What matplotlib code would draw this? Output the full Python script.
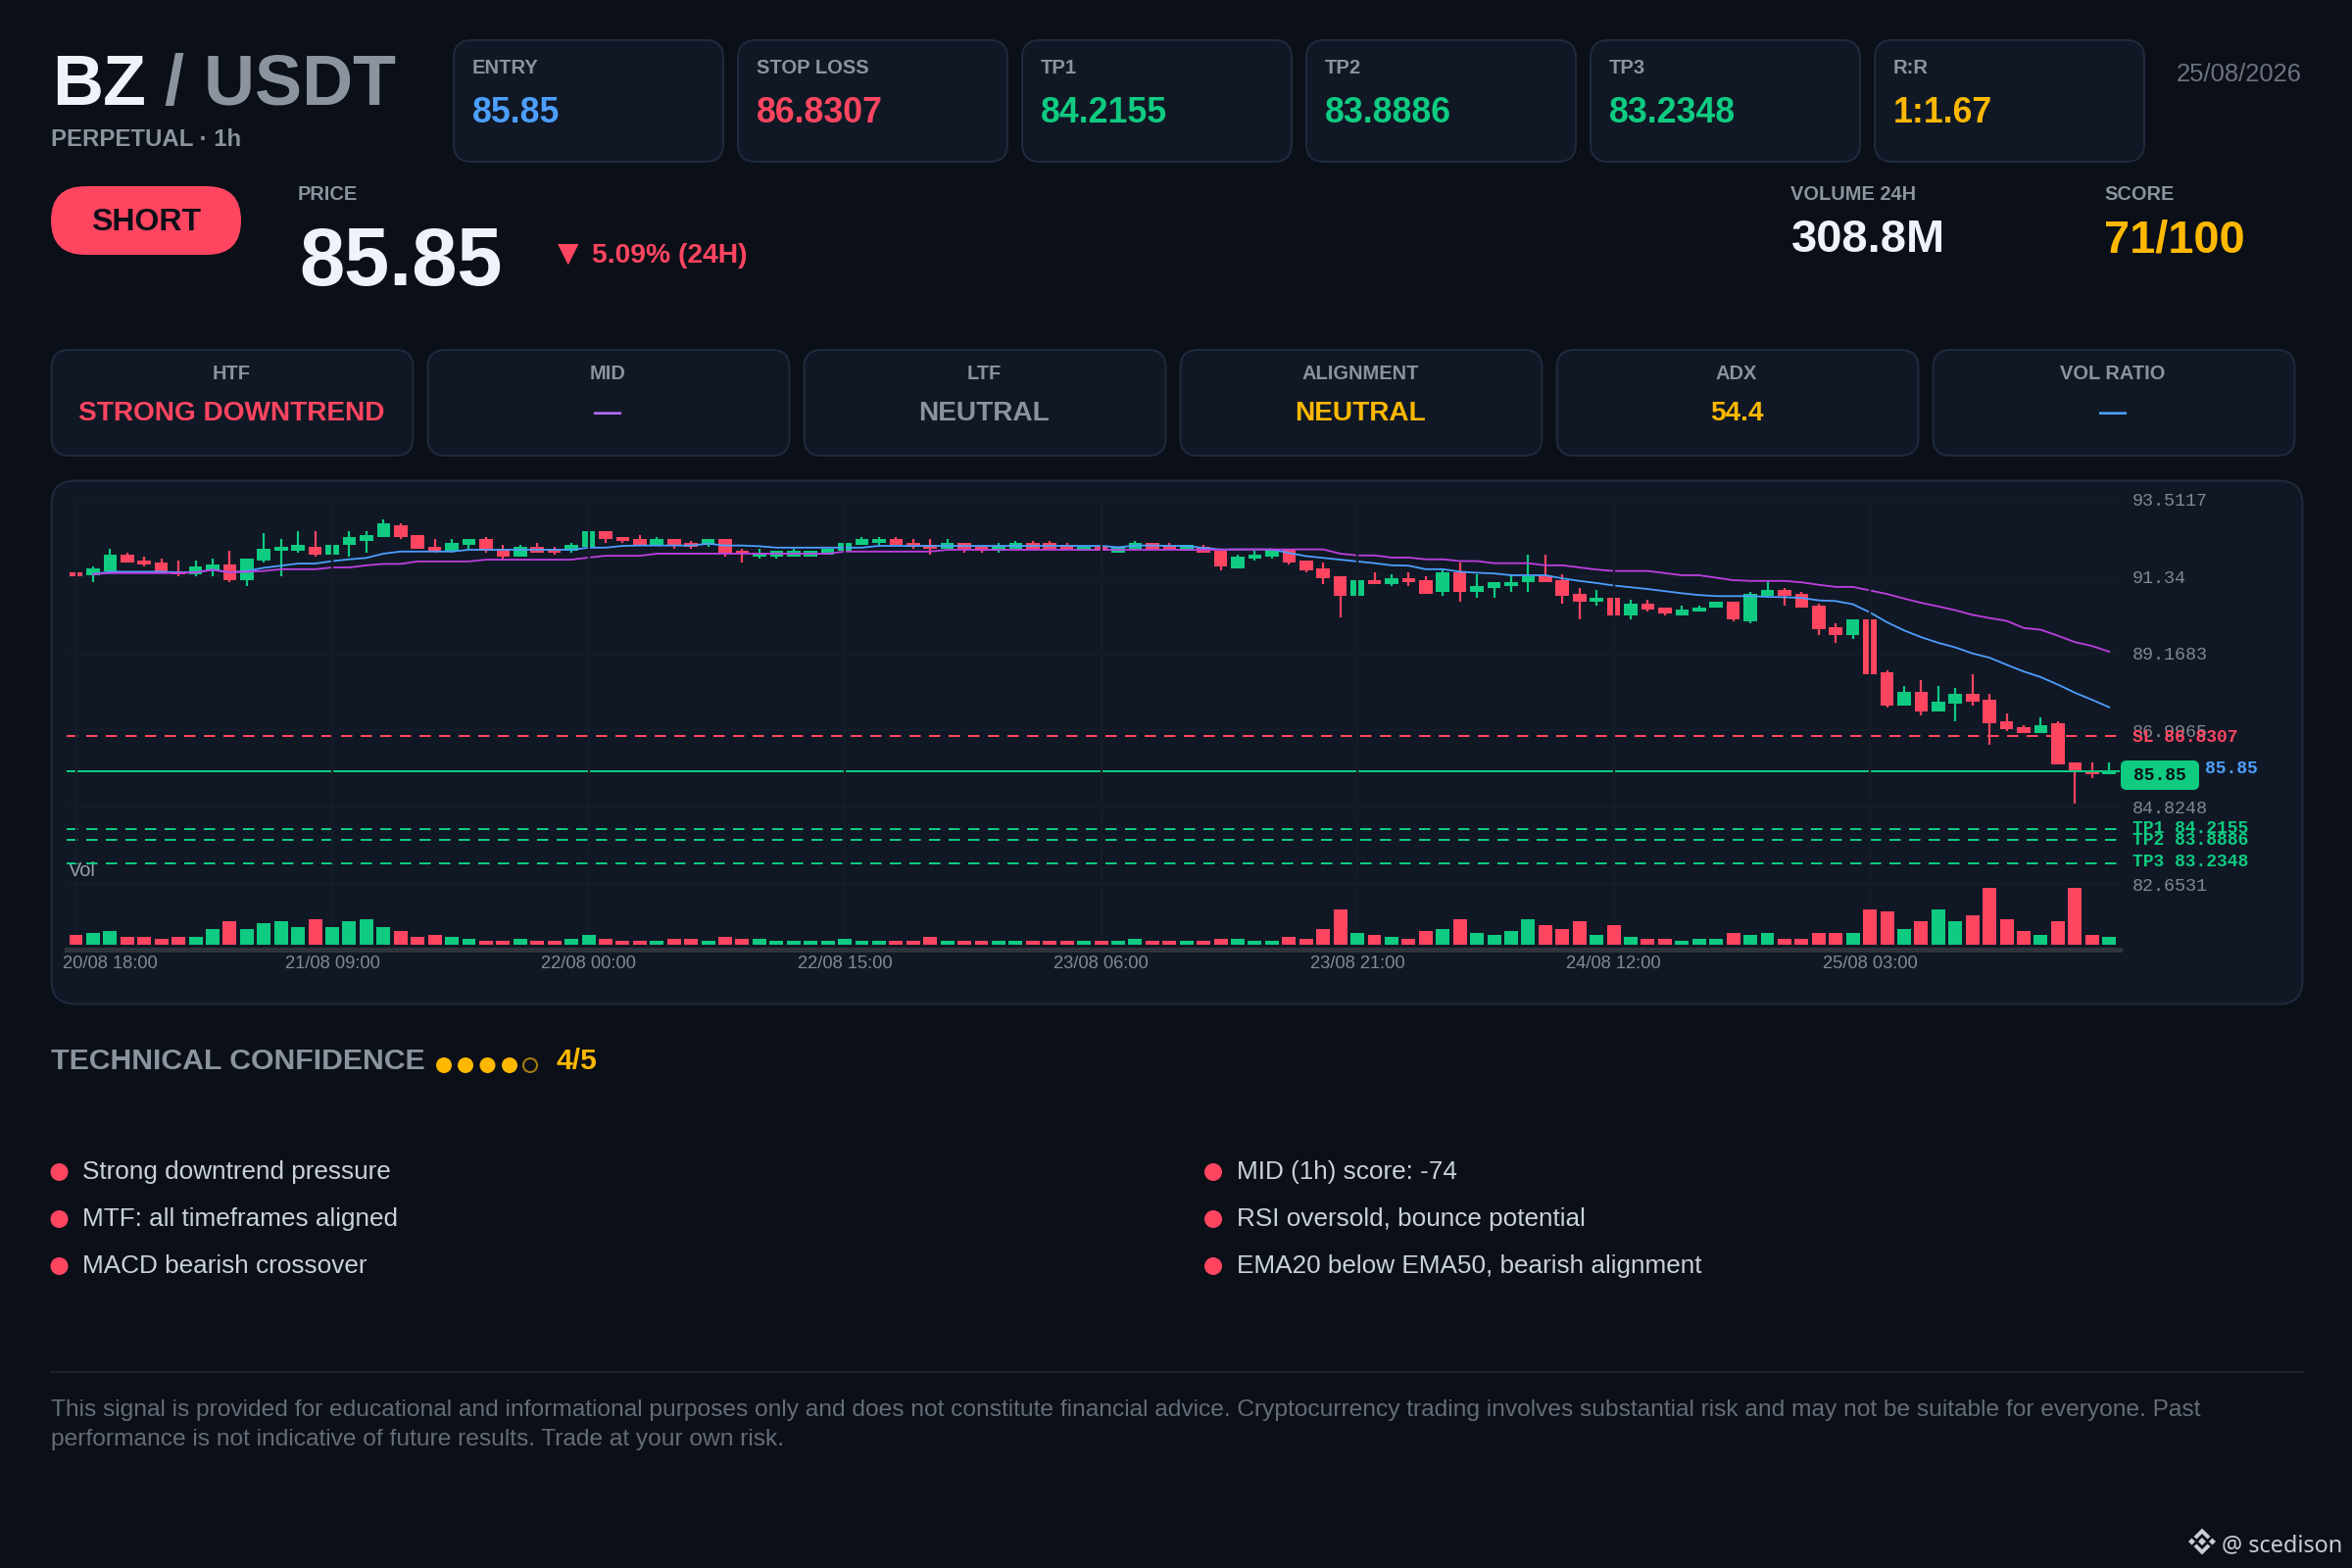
import numpy as np
import matplotlib
matplotlib.use("Agg")
import matplotlib.pyplot as plt
import matplotlib.transforms as mtr
from matplotlib.patches import FancyBboxPatch, Circle, Polygon

plt.rcParams['font.family'] = ['Liberation Sans', 'DejaVu Sans']

# ---------------- data ----------------
opens = [91.45,91.37,91.48,91.96,91.80,91.74,91.50,91.41,91.52,91.68,
91.24,91.80,92.07,92.07,92.18,91.96,92.24,92.35,92.46,92.79,
92.52,92.18,92.07,92.24,92.41,92.13,91.91,92.18,92.13,92.07,
92.18,92.63,92.46,92.41,92.24,92.41,92.29,92.24,92.41,92.07,
91.91,91.91,91.91,91.91,91.96,92.07,92.24,92.29,92.41,92.29,
92.24,92.13,92.29,92.18,92.07,92.13,92.29,92.29,92.24,92.07,
92.18,92.02,92.13,92.29,92.24,92.07,92.18,92.07,91.57,91.85,
91.90,92.11,91.79,91.57,91.35,90.80,91.24,91.13,91.29,91.24,
90.91,91.46,90.91,91.02,91.07,91.18,91.35,91.24,90.85,90.63,
90.74,90.24,90.57,90.46,90.24,90.35,90.46,90.63,90.08,90.80,
90.96,90.85,90.52,89.91,89.69,90.13,88.64,87.69,88.08,87.53,
87.75,88.03,87.86,87.25,87.09,86.92,87.20,86.09,85.81,85.76]
highs = [91.45,91.64,92.13,92.02,91.91,91.85,91.80,91.80,91.85,92.07,
91.85,92.57,92.41,92.63,92.63,92.24,92.63,92.63,92.96,92.85,
92.52,92.41,92.41,92.41,92.46,92.24,92.24,92.29,92.18,92.29,
92.63,92.63,92.46,92.52,92.46,92.41,92.35,92.41,92.41,92.13,
92.13,92.07,92.13,92.07,92.13,92.29,92.46,92.46,92.46,92.41,
92.41,92.41,92.29,92.18,92.29,92.35,92.35,92.35,92.29,92.18,
92.18,92.18,92.35,92.29,92.29,92.24,92.24,92.07,91.96,92.07,
92.11,92.11,91.79,91.74,91.35,91.24,91.46,91.41,91.46,91.35,
91.57,91.74,91.41,91.18,91.41,91.96,91.96,91.41,91.02,90.96,
90.74,90.69,90.69,90.46,90.52,90.52,90.63,90.63,90.91,91.24,
91.02,90.91,90.58,90.02,90.13,90.13,88.69,88.25,88.42,88.25,
88.19,88.58,88.03,87.47,87.14,87.36,87.25,86.09,86.09,86.09]
lows = [91.36,91.19,91.41,91.74,91.63,91.46,91.35,91.35,91.35,91.19,
91.08,91.74,91.35,92.02,91.91,91.96,91.91,92.02,92.46,92.41,
92.13,92.02,92.02,92.13,92.02,91.80,91.91,92.02,91.96,92.02,
92.18,92.29,92.29,92.24,92.24,92.13,92.13,92.18,91.91,91.74,
91.85,91.85,91.91,91.91,91.96,92.07,92.24,92.24,92.24,92.13,
91.96,92.13,92.02,92.02,92.02,92.13,92.13,92.13,92.13,92.07,
92.07,92.02,92.07,92.13,92.13,92.07,92.02,91.52,91.57,91.79,
91.85,91.68,91.46,91.13,90.19,90.80,91.13,91.07,91.07,90.85,
90.80,90.63,90.74,90.74,90.91,90.91,91.18,90.57,90.13,90.52,
90.24,90.13,90.35,90.24,90.24,90.35,90.46,90.08,90.02,90.74,
90.52,90.46,89.69,89.47,89.58,88.58,87.64,87.69,87.42,87.53,
87.25,87.69,86.59,86.97,86.92,86.92,86.03,84.92,85.64,85.76]
closes = [91.36,91.57,91.96,91.74,91.68,91.46,91.41,91.63,91.68,91.24,
91.85,92.13,92.18,92.24,91.96,92.24,92.46,92.52,92.85,92.46,
92.13,92.07,92.29,92.41,92.07,91.91,92.18,92.02,92.02,92.24,
92.63,92.41,92.35,92.24,92.41,92.24,92.18,92.41,92.02,92.02,
92.02,92.07,92.07,92.07,92.13,92.29,92.41,92.41,92.24,92.18,
92.13,92.29,92.13,92.07,92.18,92.29,92.13,92.13,92.13,92.18,
92.07,92.18,92.29,92.13,92.13,92.24,92.02,91.63,91.90,91.96,
92.11,91.74,91.52,91.29,90.80,91.24,91.13,91.29,91.18,90.85,
91.46,90.91,91.07,91.18,91.18,91.35,91.18,90.80,90.63,90.74,
90.24,90.57,90.41,90.30,90.41,90.46,90.63,90.13,90.85,90.96,
90.80,90.46,89.86,89.69,90.13,88.58,87.69,88.08,87.53,87.81,
88.03,87.81,87.20,87.03,86.92,87.14,86.03,85.87,85.76,85.87]
volumes_m = [7.5,9.25,10.75,6.25,6.25,4.5,6.25,6.25,12,18,
12,16.75,18.25,13.75,19.75,13.5,18.25,19.75,13.5,10.75,
6.25,7.75,6.25,4.5,3,3,4.5,3,3,4.5,
7.75,4.5,3,3,3,4.5,4.5,3,6.25,4.5,
4.5,3,3,3,3,4.5,3,3,3,3,
6.25,3,3,3,3,3,3,3,3,3,
3,3,4.5,3,3,3,3,4.5,4.5,3,
3,6.25,4.5,12,27,9,7.5,6,4.5,10.5,
12,19.5,9,7.5,10.5,19.5,15,12,18,7.5,
15,6,4.5,4.5,3,4.5,4.5,9,7.5,9,
4.5,4.5,9,9,9,27,25.5,12,18,27,
18,22.5,43.5,19.5,10.5,7.5,18,43.5,7.5,6]
ema20 = [np.nan,91.41,91.48,91.48,91.48,91.48,91.46,91.46,91.54,91.46,
91.50,91.59,91.65,91.71,91.71,91.78,91.83,91.87,91.99,92.05,
92.05,92.05,92.05,92.10,92.10,92.10,92.10,92.10,92.10,92.10,
92.16,92.16,92.21,92.22,92.22,92.22,92.22,92.27,92.22,92.22,
92.20,92.16,92.16,92.16,92.16,92.16,92.16,92.21,92.21,92.21,
92.21,92.21,92.21,92.21,92.21,92.21,92.21,92.21,92.21,92.21,
92.21,92.17,92.22,92.22,92.21,92.21,92.15,92.11,92.11,92.11,
92.11,92.01,91.92,91.87,91.82,91.77,91.72,91.66,91.65,91.55,
91.55,91.48,91.45,91.43,91.38,91.38,91.38,91.29,91.22,91.16,
91.09,91.04,90.99,90.93,90.87,90.82,90.79,90.79,90.79,90.77,
90.76,90.74,90.67,90.65,90.56,90.33,90.05,89.82,89.63,89.47,
89.34,89.17,89.05,88.85,88.66,88.50,88.29,88.06,87.86,87.65]
ema50 = [np.nan,91.41,91.44,91.44,91.44,91.44,91.44,91.46,91.53,91.46,
91.48,91.50,91.55,91.55,91.55,91.60,91.60,91.66,91.70,91.70,
91.77,91.77,91.77,91.77,91.82,91.82,91.82,91.82,91.82,91.82,
91.88,91.93,91.93,91.93,91.99,91.99,91.99,91.99,91.99,91.99,
91.99,91.99,91.99,91.99,91.99,92.05,92.05,92.05,92.05,92.05,
92.05,92.10,92.10,92.10,92.10,92.10,92.10,92.10,92.10,92.10,
92.10,92.10,92.10,92.10,92.10,92.10,92.10,92.10,92.11,92.11,
92.11,92.11,92.11,92.11,91.99,91.94,91.94,91.88,91.88,91.83,
91.83,91.78,91.78,91.72,91.72,91.72,91.66,91.66,91.60,91.54,
91.50,91.50,91.50,91.44,91.38,91.38,91.31,91.24,91.22,91.22,
91.22,91.18,91.11,91.05,91.05,90.95,90.85,90.72,90.60,90.50,
90.39,90.26,90.17,90.09,89.89,89.84,89.67,89.49,89.38,89.22]
y_ticks = [93.5117, 91.34, 89.1683, 86.9965, 84.8248, 82.6531]
x_tick_labels = ['20/08 18:00','21/08 09:00','22/08 00:00','22/08 15:00',
                 '23/08 06:00','23/08 21:00','24/08 12:00','25/08 03:00']
entry, stop_loss, tp1, tp2, tp3 = 85.85, 86.8307, 84.2155, 83.8886, 83.2348
top_cards = [('ENTRY','85.85','#4d9fff'),('STOP LOSS','86.8307','#ff4560'),
             ('TP1','84.2155','#0ecb81'),('TP2','83.8886','#0ecb81'),
             ('TP3','83.2348','#0ecb81'),('R:R','1:1.67','#ffb800')]
mid_cards = [('HTF','STRONG DOWNTREND','#ff4560'),('MID','—','#b26cff'),
             ('LTF','NEUTRAL','#8b949e'),('ALIGNMENT','NEUTRAL','#ffb800'),
             ('ADX','54.4','#ffb800'),('VOL RATIO','—','#4d9fff')]
left_notes = ['Strong downtrend pressure','MTF: all timeframes aligned','MACD bearish crossover']
right_notes = ['MID (1h) score: -74','RSI oversold, bounce potential','EMA20 below EMA50, bearish alignment']
disclaimer = ['This signal is provided for educational and informational purposes only and does not constitute financial advice. Cryptocurrency trading involves substantial risk and may not be suitable for everyone. Past',
              'performance is not indicative of future results. Trade at your own risk.']

# ---------------- colours ----------------
BG='#0b0f18'; CARD='#111825'; EDGE='#1f2a3d'; RED='#ff4560'; GREEN='#0ecb81'
BLUE='#4d9fff'; PURPLE='#bd3fe0'; AMBER='#ffb800'; WHITE='#eff3f9'; GRAY='#8b949e'

W, H = 2400, 1600
fig = plt.figure(figsize=(24, 16), dpi=100, facecolor=BG)
bg = fig.add_axes([0, 0, 1, 1], zorder=0)
bg.set_xlim(0, W); bg.set_ylim(H, 0); bg.axis('off')

def T(x, y, s, px, color=GRAY, weight='normal', ha='left', family=None, va='baseline'):
    kw = {'family': family} if family else {}
    return bg.text(x, y, s, fontsize=px*0.72, color=color, fontweight=weight, ha=ha, va=va, **kw)

def card(x, y, w, h, r=18, fc=CARD, ec=EDGE, lw=2.0):
    bg.add_patch(FancyBboxPatch((x, y), w, h, boxstyle=f'round,pad=0,rounding_size={r}',
                                fc=fc, ec=ec, lw=lw*0.72))

# header
T(53, 107, 'BZ', 72, WHITE, 'bold')
T(168, 107, '/ USDT', 72, GRAY, 'bold')
T(52, 149, 'PERPETUAL · 1h', 24, GRAY, 'bold')
for i, (lab, val, col) in enumerate(top_cards):
    x = 463 + 290*i
    card(x, 41, 275, 124)
    T(x+19, 75, lab, 20.2, GRAY, 'bold')
    T(x+19, 125, val, 35.7, col, 'bold')
T(2349, 83, '25/08/2026', 25.6, '#6b7280', ha='right')

card(52, 190, 194, 70, r=35, fc=RED, ec=RED, lw=0)
T(149, 235, 'SHORT', 32, BG, 'bold', ha='center')
T(304, 204, 'PRICE', 20, GRAY, 'bold')
T(305, 291, '85.85', 83, WHITE, 'bold')
T(569, 267, '▼', 28, RED, 'bold', family='DejaVu Sans')
T(604, 268, '5.09% (24H)', 28.3, RED, 'bold')
T(1827, 204, 'VOLUME 24H', 20, GRAY, 'bold')
T(1828, 257, '308.8M', 47, WHITE, 'bold')
T(2147, 204, 'SCORE', 20, GRAY, 'bold')
T(2147, 257, '71/100', 47, AMBER, 'bold')

for i, (lab, val, col) in enumerate(mid_cards):
    x = 52.5 + 384*i
    card(x, 357, 369, 108)
    T(x+184.5-1, 387, lab, 20, GRAY, 'bold', ha='center')
    T(x+184.5-1, 429, val, 28, col, 'bold', ha='center')

# chart panel
card(52.5, 490.5, 2297, 534, r=24)

# chart axes (price pane)
AX_L, AX_R, AX_T, AX_B = 68, 2163, 510, 969
ax = fig.add_axes([AX_L/W, 1-AX_B/H, (AX_R-AX_L)/W, (AX_B-AX_T)/H], zorder=2)
ax.patch.set_alpha(0)
ax.set_xlim(-0.545, 119.62)
ax.set_ylim(80.80, 93.5117)
xs = np.arange(len(closes))
o, h, l, c = map(np.array, (opens, highs, lows, closes))
colors = [GREEN if cc >= oo else RED for oo, cc in zip(o, c)]
ax.set_yticks(y_ticks)
ax.set_yticklabels([f'{v:g}' if v == 91.34 else f'{v:.4f}' for v in y_ticks],
                   family='Liberation Mono', fontsize=18.4*0.72, color='#84888f')
ax.set_xticks(xs[::15])
ax.set_xticklabels(x_tick_labels, fontsize=18.4*0.72, color='#84888f')
ax.tick_params(axis='both', length=0)
ax.tick_params(axis='y', pad=9.5, labelleft=False, labelright=True)
ax.tick_params(axis='x', pad=4)
first = ax.get_xticklabels()[0]
first.set_ha('left')
first.set_transform(first.get_transform() + mtr.ScaledTranslation(-14/100, 0, fig.dpi_scale_trans))
for s in ('top', 'left', 'right'):
    ax.spines[s].set_visible(False)
ax.spines['bottom'].set_color('#2f343c'); ax.spines['bottom'].set_linewidth(5*0.72)
ax.set_axisbelow(True)
ax.grid(axis='y', color='#161e2b', lw=1.5*0.72)

ax.vlines(xs, l, h, colors=colors, lw=2.2*0.72, zorder=3)
ax.bar(xs, np.maximum(np.abs(c-o), 0.04), bottom=np.minimum(o, c), width=0.78, color=colors, lw=0, zorder=4)
ax.plot(xs, ema20, color=BLUE, lw=1.8*0.72, zorder=5)
ax.plot(xs, ema50, color=PURPLE, lw=1.8*0.72, zorder=5)

dash = (0, (11.5/2, 8.5/2))
ax.axhline(stop_loss, color=RED, lw=2*0.72, ls=dash, zorder=6)
for tp in (tp1, tp2, tp3):
    ax.axhline(tp, color=GREEN, lw=2*0.72, ls=dash, zorder=6)
ax.axhline(entry, color=GREEN, lw=2*0.72, zorder=6)
for xv in xs[::15]:
    ax.axvline(xv, ymin=(AX_B-880)/(AX_B-AX_T), color='#151c29', lw=2.2*0.72, zorder=8)

tr = ax.get_yaxis_transform()
def side(txt, y, col, dx=13, dy=0):
    ax.annotate(txt, xy=(1, y), xycoords=tr, xytext=(dx*0.72, dy*0.72), textcoords='offset points',
                family='Liberation Mono', fontweight='bold', fontsize=18*0.72, color=col, va='center', annotation_clip=False)
side(f'SL {stop_loss}', stop_loss, RED, dy=-1)
side(f'TP1 {tp1}', tp1, GREEN)
side(f'TP2 {tp2}', tp2, GREEN)
side(f'TP3 {tp3}', tp3, GREEN, dy=2)
side(f'{entry}', entry, BLUE, dx=87, dy=2)

ax.text(70, 889, 'Vol', transform=bg.transData, fontsize=20*0.72, color='#9a9fa6', va='center')

# volume pane
V_T, V_B = 880, 964
axv = fig.add_axes([AX_L/W, 1-V_B/H, (AX_R-AX_L)/W, (V_B-V_T)/H], zorder=1.5)
axv.patch.set_alpha(0)
axv.set_xlim(ax.get_xlim()); axv.set_ylim(0, 63)
axv.vlines(xs[::15], 0, 63, color='#161e2b', lw=1.5*0.72, zorder=1)
axv.bar(xs, volumes_m, width=0.8, color=colors, lw=0, zorder=2)
axv.axis('off')

# price tag
card(2164, 776, 80, 30, r=6, fc=GREEN, ec=GREEN, lw=0)
T(2204, 792, '85.85', 18, BG, 'bold', ha='center', family='Liberation Mono', va='center')

# confidence
T(52, 1091, 'TECHNICAL CONFIDENCE', 30.2, GRAY, 'bold')
for i, cx in enumerate([453, 475, 497.5, 520]):
    bg.add_patch(Circle((cx, 1087), 8, fc=AMBER, ec='none'))
bg.add_patch(Circle((541, 1087), 7, fc='none', ec='#a67c0c', lw=2*0.72))
T(568, 1091, '4/5', 30, AMBER, 'bold')

# notes
for col_x, notes in ((60.5, left_notes), (1238, right_notes)):
    for i, s in enumerate(notes):
        y = 1196 + 48*i
        bg.add_patch(Circle((col_x, y), 9, fc=RED, ec='none'))
        T(col_x+24, y+7, s, 26.1, '#c9d1d9')

# footer
bg.plot([52, 2350], [1400, 1400], color='#1a2230', lw=2*0.72)
T(52, 1445, disclaimer[0], 24.5, '#646c77')
T(52, 1475, disclaimer[1], 24.5, '#646c77')

# watermark
ic = '#c8ccd4'; icx, icy = 2247, 1573
for d, cx, cy in ((4, 0, 0), (3.5, -10.5, 0), (3.5, 10.5, 0)):
    bg.add_patch(Polygon([(icx+cx-d, icy+cy), (icx+cx, icy+cy-d), (icx+cx+d, icy+cy), (icx+cx, icy+cy+d)], fc=ic, ec='none'))
for sgn in (-1, 1):
    bg.add_patch(Polygon([(icx, icy+sgn*13.5), (icx+8.5, icy+sgn*5), (icx+5.5, icy+sgn*2.5), (icx, icy+sgn*8),
                          (icx-5.5, icy+sgn*2.5), (icx-8.5, icy+sgn*5)], fc=ic, ec='none'))
T(2267, 1583, '@ scedison', 23.5, ic, family='Noto Sans')

fig.savefig('out.png', dpi=100, facecolor=BG)
